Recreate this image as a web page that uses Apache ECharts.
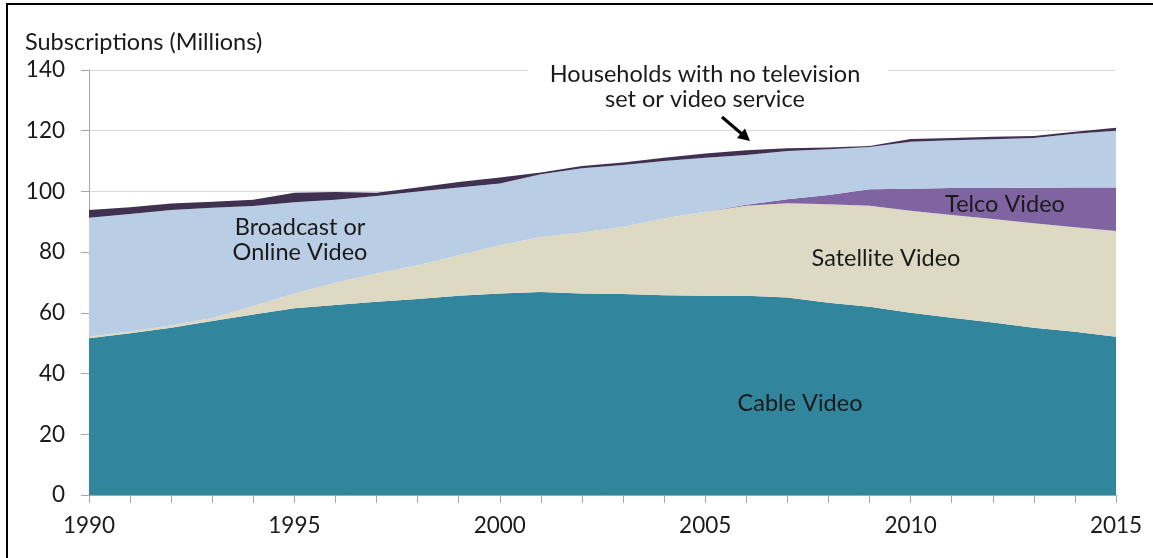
<!DOCTYPE html>
<html>
<head>
<meta charset="utf-8">
<script src="https://cdn.jsdelivr.net/npm/echarts@6/dist/echarts.min.js"></script>
<style>
  html, body { margin: 0; padding: 0; background: #fff; }
  #wrap { position: relative; width: 1153px; height: 558px; }
  #chart { position: absolute; left: 0; top: 0; width: 1153px; height: 558px; }
  #frame {
    position: absolute; left: 6px; top: 3px; right: 0; bottom: 0;
    border-left: 2px solid #000; border-top: 2px solid #000;
    pointer-events: none; z-index: 5;
  }
</style>
</head>
<body>
<div id="wrap">
  <div id="chart"></div>
  <div id="frame"></div>
</div>
<script>
const years = ['1990', '1991', '1992', '1993', '1994', '1995', '1996', '1997', '1998', '1999',
  '2000', '2001', '2002', '2003', '2004', '2005', '2006', '2007', '2008', '2009',
  '2010', '2011', '2012', '2013', '2014', '2015'];

// subscriptions in millions, stacked bottom to top
const cableVideo = [51.6, 53.3, 55.1, 57.3, 59.5, 61.5, 62.6, 63.7, 64.6, 65.6,
  66.4, 66.9, 66.4, 66.2, 65.8, 65.6, 65.6, 65.1, 63.3, 62.0,
  60.0, 58.4, 56.8, 55.1, 53.8, 52.1];
const satelliteVideo = [0.6, 0.6, 0.7, 1.0, 2.8, 4.9, 7.4, 9.3, 11.1, 13.4,
  15.9, 18.1, 20.1, 22.2, 25.4, 27.7, 29.7, 31.0, 32.5, 33.3,
  33.6, 33.8, 34.1, 34.4, 34.4, 34.9];
const telcoVideo = [0, 0, 0, 0, 0, 0, 0, 0, 0, 0,
  0, 0, 0, 0, 0, 0, 0.3, 1.3, 3.0, 5.4,
  7.3, 8.9, 10.2, 11.7, 13.1, 14.3];
const broadcastOnline = [39.1, 38.7, 38.1, 36.3, 32.9, 30.0, 27.3, 25.5, 24.3, 22.3,
  20.3, 20.7, 21.1, 20.3, 18.8, 17.8, 16.4, 15.9, 15.1, 13.9,
  15.5, 15.8, 16.1, 16.4, 17.7, 18.7];
const noTelevision = [2.6, 2.2, 2.1, 2.0, 2.1, 3.2, 2.5, 1.1, 1.3, 1.8,
  2.0, 0.5, 0.8, 0.8, 1.1, 1.4, 1.6, 0.9, 0.6, 0.4,
  0.9, 0.7, 0.8, 0.7, 0.7, 1.0];

const yTicks = [0, 20, 40, 60, 80, 100, 120, 140];

const fontName = 'Lato, "Open Sans", sans-serif';
const txtColor = '#1a1a1a';
const labelSize = 23.5;
const tickSize = 22.5;

function areaSeries(name, data, color) {
  return {
    name: name,
    type: 'line',
    stack: 'total',
    data: data,
    symbol: 'none',
    lineStyle: { width: 0 },
    areaStyle: { color: color, opacity: 1 },
    itemStyle: { color: color },
  };
}

function label(text, x, y) {
  return {
    type: 'text',
    x: x,
    y: y,
    z: 100,
    style: {
      text: text,
      fill: txtColor,
      align: 'center',
      verticalAlign: 'middle',
      fontSize: labelSize,
      fontFamily: fontName,
      lineHeight: 25,
    },
  };
}

const chart = echarts.init(document.getElementById('chart'));

const option = {
  backgroundColor: '#fff',
  animation: false,
  grid: { left: 89, right: 37, top: 70, bottom: 63 },
  xAxis: {
    type: 'category',
    data: years,
    boundaryGap: false,
    axisLine: { lineStyle: { color: '#a6a6a6', width: 1 } },
    axisTick: { show: true, interval: 0, length: 8, lineStyle: { color: '#a6a6a6' } },
    axisLabel: { interval: 4, margin: 19, color: txtColor, fontSize: tickSize, fontFamily: fontName },
    splitLine: { show: false },
  },
  yAxis: {
    type: 'value',
    min: yTicks[0],
    max: yTicks[yTicks.length - 1],
    interval: 20,
    axisLine: { show: true, lineStyle: { color: '#a6a6a6', width: 1 } },
    axisTick: { show: true, length: 8, lineStyle: { color: '#a6a6a6' } },
    axisLabel: { margin: 24, color: txtColor, fontSize: tickSize, fontFamily: fontName },
    splitLine: { show: true, lineStyle: { color: '#d9d9d9', width: 1 } },
  },
  series: [
    areaSeries('Cable Video', cableVideo, '#31859c'),
    areaSeries('Satellite Video', satelliteVideo, '#ddd9c3'),
    areaSeries('Telco Video', telcoVideo, '#8064a2'),
    areaSeries('Broadcast or Online Video', broadcastOnline, '#b9cde5'),
    areaSeries('Households with no television set or video service', noTelevision, '#403152'),
  ],
  graphic: [
    {
      type: 'text', left: 25, top: 30, z: 100,
      style: { text: 'Subscriptions (Millions)', fill: txtColor, fontSize: labelSize, fontFamily: fontName },
    },
    // white gap in the top gridline behind the annotation
    { type: 'rect', shape: { x: 528, y: 62, width: 360, height: 16 }, style: { fill: '#fff' }, z: 99 },
    label('Households with no television\nset or video service', 705, 87),
    {
      type: 'line', z: 100,
      shape: { x1: 722, y1: 117, x2: 743, y2: 135 },
      style: { stroke: '#000', lineWidth: 3 },
    },
    {
      type: 'polygon', z: 100,
      shape: { points: [[750, 141], [737, 138], [745, 128.5]] },
      style: { fill: '#000' },
    },
    label('Broadcast or\nOnline Video', 300, 240),
    label('Satellite Video', 886, 258),
    label('Telco Video', 1005, 204),
    label('Cable Video', 800, 403),
  ],
};

chart.setOption(option);
</script>
</body>
</html>
